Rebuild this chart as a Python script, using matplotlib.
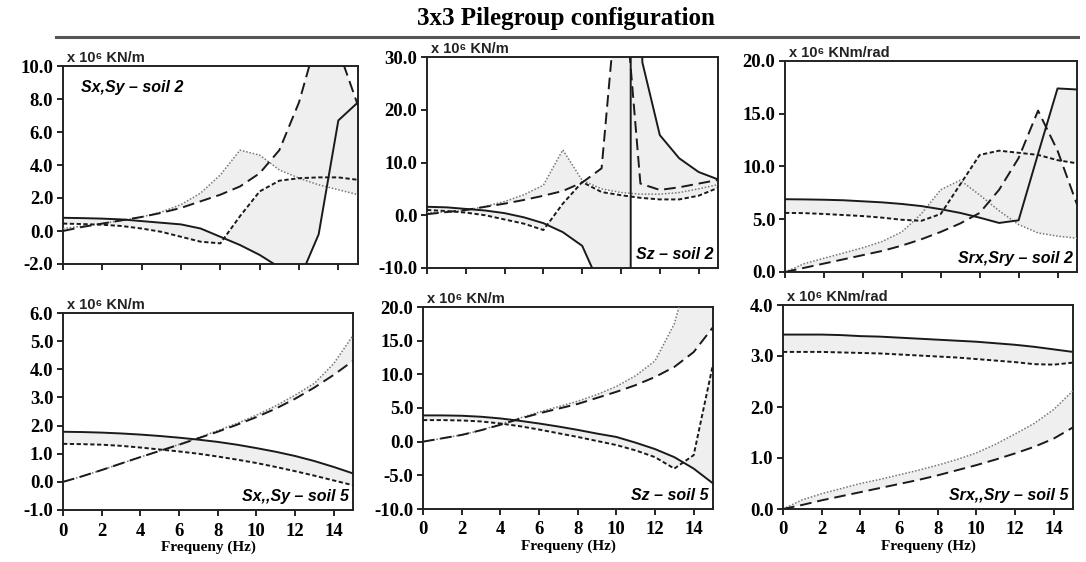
import numpy as np
import matplotlib.pyplot as plt
from matplotlib.lines import Line2D

plt.rcParams['axes.unicode_minus'] = False

# frequency grid (Hz)
freq = list(range(16))

# --- Sx,Sy soil 2 ---
sx2_solid = [0.8, 0.78, 0.75, 0.7, 0.6, 0.5, 0.4, 0.15, -0.35, -0.85, -1.45, -2.2, -3.0, -0.2, 6.7, 7.8]
sx2_sdash = [0.45, 0.42, 0.38, 0.3, 0.15, -0.05, -0.35, -0.65, -0.75, 0.9, 2.4, 3.05, 3.2, 3.25, 3.25, 3.1]
sx2_dot = [0.15, 0.3, 0.45, 0.65, 0.85, 1.15, 1.6, 2.3, 3.4, 4.9, 4.6, 3.7, 3.2, 2.8, 2.5, 2.2]
sx2_ldash = [0.0, 0.25, 0.45, 0.65, 0.85, 1.1, 1.4, 1.8, 2.2, 2.7, 3.5, 4.9, 7.8, 12.0, 11.0, 7.6]

# --- Sz soil 2 ---
sz2_solid_f = [0, 1, 2, 3, 4, 5, 6, 7, 8, 9, 10.5, 10.5, 11.1, 12, 13, 14, 15]
sz2_solid = [1.6, 1.5, 1.2, 0.9, 0.4, -0.4, -1.5, -3.2, -5.8, -14, -200, 200, 29, 15.2, 10.8, 8.2, 6.8]
sz2_sdash = [1.0, 0.8, 0.5, 0.0, -0.8, -1.6, -2.8, 2.2, 6.3, 4.4, 3.8, 3.3, 3.0, 3.0, 3.7, 5.2]
sz2_dot = [0.5, 0.6, 0.9, 1.7, 2.6, 3.9, 5.7, 12.4, 6.6, 5.0, 4.3, 4.0, 4.0, 4.3, 5.0, 5.8]
sz2_ldash = [0.2, 0.6, 1.0, 1.6, 2.2, 2.9, 3.7, 4.6, 6.2, 8.9, 50.0, 6.0, 4.8, 5.3, 6.0, 6.7]

# --- Srx,Sry soil 2 ---
sr2_solid = [6.9, 6.88, 6.85, 6.8, 6.7, 6.6, 6.45, 6.25, 5.95, 5.6, 5.15, 4.65, 4.9, 11.2, 17.4, 17.3]
sr2_sdash = [5.6, 5.58, 5.5, 5.4, 5.3, 5.15, 4.95, 4.85, 5.5, 8.3, 11.1, 11.5, 11.3, 11.1, 10.6, 10.3]
sr2_dot = [0.0, 0.8, 1.3, 1.8, 2.3, 2.9, 3.8, 5.5, 7.8, 8.7, 7.3, 5.8, 4.5, 3.7, 3.4, 3.2]
sr2_ldash = [0.0, 0.4, 0.8, 1.2, 1.6, 2.0, 2.5, 3.1, 3.8, 4.6, 5.6, 7.8, 10.8, 15.3, 11.5, 6.4]

# --- Sx,Sy soil 5 ---
sx5_solid = [1.78, 1.77, 1.75, 1.72, 1.68, 1.63, 1.57, 1.5, 1.42, 1.32, 1.2, 1.07, 0.92, 0.74, 0.53, 0.3]
sx5_sdash = [1.35, 1.34, 1.32, 1.28, 1.22, 1.15, 1.08, 1.0, 0.9, 0.79, 0.67, 0.53, 0.38, 0.22, 0.05, -0.12]
sx5_dot = [0.0, 0.2, 0.42, 0.65, 0.88, 1.1, 1.33, 1.57, 1.82, 2.08, 2.37, 2.7, 3.08, 3.5, 4.2, 5.2]
sx5_ldash = [0.0, 0.2, 0.42, 0.65, 0.88, 1.1, 1.32, 1.55, 1.78, 2.03, 2.3, 2.6, 2.95, 3.35, 3.8, 4.3]

# --- Sz soil 5 ---
sz5_solid = [3.9, 3.9, 3.85, 3.7, 3.45, 3.1, 2.7, 2.25, 1.75, 1.2, 0.7, -0.15, -1.1, -2.3, -4.0, -6.2]
sz5_sdash = [3.2, 3.2, 3.15, 3.0, 2.7, 2.3, 1.8, 1.25, 0.7, 0.1, -0.5, -1.3, -2.3, -4.0, -2.0, 11.5]
sz5_dot = [0.0, 0.5, 1.0, 1.7, 2.6, 3.5, 4.4, 5.2, 6.0, 7.0, 8.2, 9.8, 12.0, 17.5, 28.0, 40.0]
sz5_ldash = [0.0, 0.5, 1.0, 1.7, 2.5, 3.4, 4.2, 4.9, 5.6, 6.5, 7.4, 8.4, 9.6, 11.1, 13.3, 17.0]

# --- Srx,Sry soil 5 ---
sr5_solid = [3.42, 3.42, 3.42, 3.41, 3.39, 3.38, 3.36, 3.34, 3.32, 3.3, 3.28, 3.25, 3.22, 3.18, 3.13, 3.08]
sr5_sdash = [3.08, 3.08, 3.08, 3.07, 3.06, 3.05, 3.03, 3.01, 2.99, 2.97, 2.94, 2.91, 2.88, 2.84, 2.83, 2.87]
sr5_dot = [0.0, 0.18, 0.3, 0.4, 0.5, 0.58, 0.67, 0.76, 0.86, 0.97, 1.1, 1.27, 1.47, 1.68, 1.95, 2.32]
sr5_ldash = [0.0, 0.08, 0.17, 0.25, 0.33, 0.41, 0.49, 0.57, 0.66, 0.76, 0.86, 0.97, 1.09, 1.22, 1.38, 1.6]

panels = [
    dict(box=(63, 66, 358, 264), ylim=(-2, 10), ystep=2, unit="x 10⁶ KN/m",
         label="Sx,Sy – soil 2", lpos="tl",
         solid=(freq, sx2_solid), sdash=sx2_sdash, dot=sx2_dot, ldash=sx2_ldash),
    dict(box=(427, 57, 718, 268), ylim=(-10, 30), ystep=10, unit="x 10⁶ KN/m",
         label="Sz – soil 2", lpos="br",
         solid=(sz2_solid_f, sz2_solid), sdash=sz2_sdash, dot=sz2_dot, ldash=sz2_ldash),
    dict(box=(785, 61, 1077, 272), ylim=(0, 20), ystep=5, unit="x 10⁶ KNm/rad",
         label="Srx,Sry – soil 2", lpos="br",
         solid=(freq, sr2_solid), sdash=sr2_sdash, dot=sr2_dot, ldash=sr2_ldash),
    dict(box=(63, 313, 353, 510), ylim=(-1, 6), ystep=1, unit="x 10⁶ KN/m",
         label="Sx,,Sy – soil 5", lpos="br",
         solid=(freq, sx5_solid), sdash=sx5_sdash, dot=sx5_dot, ldash=sx5_ldash),
    dict(box=(423, 307, 713, 509), ylim=(-10, 20), ystep=5, unit="x 10⁶ KN/m",
         label="Sz – soil 5", lpos="br",
         solid=(freq, sz5_solid), sdash=sz5_sdash, dot=sz5_dot, ldash=sz5_ldash),
    dict(box=(783, 305, 1073, 509), ylim=(0, 4), ystep=1, unit="x 10⁶ KNm/rad",
         label="Srx,,Sry – soil 5", lpos="br",
         solid=(freq, sr5_solid), sdash=sr5_sdash, dot=sr5_dot, ldash=sr5_ldash),
]

W, H = 1086, 562
fig = plt.figure(figsize=(W / 100, H / 100), dpi=100)

fill_c = '#efefef'
line_c = '#1a1a1a'
serif = ['Liberation Serif', 'DejaVu Serif']
sans = ['Liberation Sans', 'DejaVu Sans']

for i, p in enumerate(panels):
    l, t, r, b = p['box']
    ax = fig.add_axes([l / W, 1 - b / H, (r - l) / W, (b - t) / H])
    sf, sv = p['solid']

    # shaded bands: solid vs short dash, dotted vs long dash
    ax.fill(np.r_[sf, freq[::-1]], np.r_[sv, p['sdash'][::-1]], color=fill_c, lw=0, zorder=1)
    ax.fill(np.r_[freq, freq[::-1]], np.r_[p['dot'], p['ldash'][::-1]], color=fill_c, lw=0, zorder=1)

    ax.plot(freq, p['dot'], color='#777777', lw=1.1, ls=(0, (1, 1.2)), zorder=3)
    ax.plot(freq, p['ldash'], color=line_c, lw=1.4, ls=(0, (6, 3)), zorder=3)
    ax.plot(freq, p['sdash'], color=line_c, lw=1.4, ls=(0, (2.2, 1.3)), zorder=3)
    ax.plot(sf, sv, color=line_c, lw=1.4, zorder=4)

    ax.set_xlim(0, 15)
    ax.set_ylim(*p['ylim'])
    ax.set_xticks(range(0, 15, 2))
    ax.set_yticks(np.arange(p['ylim'][0], p['ylim'][1] + 0.01, p['ystep']))
    ax.yaxis.set_major_formatter(plt.FormatStrFormatter('%.1f'))
    ax.tick_params(direction='out', length=4, width=1.2)
    ax.tick_params(axis='x', pad=5)
    ax.tick_params(axis='y', pad=3)
    for s in ax.spines.values():
        s.set_linewidth(1.4)
        s.set_color('#222222')
    for lab in ax.get_yticklabels() + ax.get_xticklabels():
        lab.set_family(serif)
        lab.set_fontweight('bold')
        lab.set_fontsize(13.5)
    if i < 3:
        ax.tick_params(labelbottom=False)
    else:
        ax.set_xlabel("Frequeny (Hz)", family=serif, fontweight='bold', fontsize=11, labelpad=1)

    ax.text(0.015, 1.005, p['unit'], transform=ax.transAxes, family=sans,
            fontsize=10.5, fontweight='bold', ha='left', va='bottom', color='#222222')
    if p['lpos'] == 'tl':
        ax.text(0.06, 0.93, p['label'], transform=ax.transAxes, family=sans,
                fontsize=11.5, fontweight='bold', style='italic', ha='left', va='top', zorder=5)
    else:
        ax.text(0.985, 0.03, p['label'], transform=ax.transAxes, family=sans,
                fontsize=11.5, fontweight='bold', style='italic', ha='right', va='bottom', zorder=5)

fig.text(566 / W, 1 - 19 / H, "3x3 Pilegroup configuration", family=serif,
         fontweight='bold', fontsize=18, ha='center', va='center')
fig.add_artist(Line2D([56 / W, 1078 / W], [1 - 37 / H, 1 - 37 / H], color='#555555', lw=2.2))

fig.savefig('out.png', dpi=100)
